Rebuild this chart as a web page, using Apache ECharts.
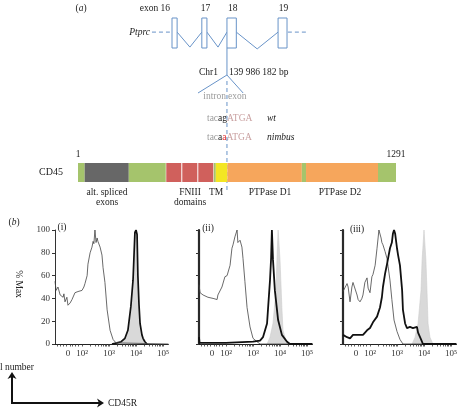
<!DOCTYPE html>
<html>
<head>
<meta charset="utf-8">
<script src="https://cdn.jsdelivr.net/npm/echarts@6/dist/echarts.min.js"></script>
<style>
  html, body { margin: 0; padding: 0; background: #fff; }
  #chart { width: 461px; height: 412px; }
</style>
</head>
<body>
<div id="chart"></div>
<script>
// ---- (a) gene structure, schematic gene units ----
const exonNames = ['exon 16', '17', '18', '19']
const exonStart = [0, 7.0, 12.9, 24.9]
const exonEnd = [1.2, 8.2, 15.1, 27.0]
// connector paths: introns, flanks, splice-site zoom
const introns = [
    [[1.2, 0.47], [4.2, 0.97], [7.0, 0.47]],
    [[8.2, 0.47], [10.8, 0.97], [12.9, 0.47]],
    [[15.1, 0.47], [20.0, 1.03], [24.9, 0.47]],
    [[12.9, 1.0], [12.9, 1.9]],
    [[6.1, 2.5], [12.9, 1.9], [16.7, 2.5]]
]
const dashedPaths = [
    [[-4.7, 0.47], [-0.5, 0.47]],
    [[27.2, 0.47], [31.7, 0.47]],
    [[12.9, 2.1], [12.9, 5.8]]
]

// ---- CD45 protein domains (residues 1..1291) ----
const domainFrom = [1, 28, 207, 357, 422, 487, 552, 560, 607, 909, 926, 1218]
const domainTo = [28, 207, 357, 422, 487, 552, 560, 607, 909, 926, 1218, 1291]
const domainKind = ['link', 'alt', 'link', 'fn3', 'fn3', 'fn3', 'link', 'tm', 'ptp', 'link', 'ptp', 'link']
const residueLabels = [1, 1291]

// ---- (b) histograms, x = display decades (2 = 10^2 ...) ----
const xTickValues = [1.48, 2, 3, 4, 5]
const xTickLabels = ['0', '10²', '10³', '10⁴', '10⁵']
const yTickValues = [0, 20, 40, 60, 80, 100]

const iThinX = [1.00, 1.04, 1.11, 1.19, 1.30, 1.33, 1.37, 1.44, 1.48, 1.56, 1.63, 1.74, 1.85, 2.00, 2.07, 2.11, 2.19, 2.22, 2.30, 2.37, 2.41, 2.44, 2.48, 2.52, 2.56, 2.59, 2.67, 2.74, 2.78, 2.85, 2.93, 3.04, 3.15, 3.26, 3.33, 5.2]
const iThinY = [55, 47, 50, 43, 41, 44, 37, 41, 34, 36, 39, 45, 46, 47, 50, 53, 60, 70, 80, 85, 90, 88, 100, 89, 93, 90, 85, 78, 67, 54, 30, 12, 4, 1, 0, 0]
const iFillX = [3.11, 3.30, 3.45, 3.59, 3.70, 3.81, 3.89, 3.93, 3.96, 4.00, 4.04, 4.07, 4.11, 4.15, 4.22, 4.26, 4.33, 4.41]
const iFillY = [0, 1, 2, 5, 12, 33, 56, 80, 98, 100, 96, 60, 35, 18, 8, 5, 2, 0]

const iiThinX = [1.00, 1.04, 1.15, 1.33, 1.52, 1.67, 1.70, 1.85, 1.96, 2.04, 2.15, 2.22, 2.26, 2.33, 2.41, 2.44, 2.52, 2.59, 2.63, 2.70, 2.78, 2.89, 3.00, 3.15, 3.26, 5.2]
const iiThinY = [52, 45, 43, 41, 40, 39, 43, 50, 59, 60, 69, 84, 87, 94, 100, 89, 91, 85, 75, 55, 32, 15, 5, 2, 0, 0]
const iiThickX = [1.00, 1.02, 1.05, 2.00, 3.00, 3.26, 3.37, 3.52, 3.56, 3.63, 3.67, 3.70, 3.74, 3.81, 3.93, 4.07, 4.26, 4.37, 5.2]
const iiThickY = [6, 1, 0, 1, 2, 3, 6, 18, 32, 56, 75, 100, 74, 47, 21, 8, 2, 0, 0]
const iiFillX = [3.52, 3.63, 3.74, 3.85, 3.89, 3.93, 4.00, 4.07, 4.11, 4.22, 4.33]
const iiFillY = [0, 6, 18, 47, 76, 100, 74, 32, 12, 3, 0]

const iiiThinX = [1.00, 1.15, 1.19, 1.26, 1.33, 1.37, 1.44, 1.52, 1.56, 1.63, 1.70, 1.74, 1.81, 1.89, 1.93, 2.00, 2.07, 2.11, 2.19, 2.26, 2.30, 2.33, 2.41, 2.44, 2.48, 2.56, 2.63, 2.67, 2.74, 2.81, 2.89, 3.00, 3.11, 3.22, 5.2]
const iiiThinY = [46, 53, 50, 37, 50, 54, 53, 43, 39, 37, 40, 43, 54, 58, 49, 45, 59, 61, 69, 84, 93, 100, 93, 89, 87, 81, 75, 68, 56, 39, 21, 11, 4, 0, 0]
const iiiThickX = [1.00, 1.15, 1.26, 1.37, 1.56, 1.74, 1.89, 2.00, 2.11, 2.26, 2.37, 2.44, 2.48, 2.56, 2.63, 2.74, 2.81, 2.85, 2.89, 2.93, 3.00, 3.04, 3.11, 3.19, 3.22, 3.30, 3.37, 3.48, 3.59, 3.74, 3.78, 3.89, 3.96, 5.2]
const iiiThickY = [8, 6, 5, 8, 8, 8, 12, 14, 19, 24, 32, 41, 50, 62, 70, 84, 89, 97, 100, 97, 84, 78, 69, 47, 30, 18, 14, 15, 14, 15, 10, 4, 0, 0]
const iiiFillX = [3.56, 3.67, 3.78, 3.89, 3.93, 4.00, 4.07, 4.11, 4.15, 4.22, 4.33]
const iiiFillY = [0, 6, 18, 47, 74, 100, 74, 47, 18, 6, 0]

const SERIF = '"Liberation Serif", "DejaVu Serif", serif'
const BLUE = '#6893c8'
const domainColor = { link: '#a5c46c', alt: '#676767', fn3: '#d0605c', tm: '#f3e624', ptp: '#f6a65c' }

const zip = (xs, ys) => xs.map((x, i) => [x, ys[i]])

// biexponential-looking minor ticks
const minorTicks = [1.1, 1.2, 1.3, 1.4, 1.56, 1.65, 1.75, 1.85]
for (let d = 2; d < 5; d++) {
    for (let k = 1; k <= 9; k++) minorTicks.push(d + Math.log10(k))
}
minorTicks.push(5)

const txt = (x, y, text, extra = {}, rotation = 0) => ({
    type: 'text', x, y, rotation, silent: true,
    style: Object.assign({
        text, fontFamily: SERIF, fontSize: 9.5, fill: '#222',
        align: 'center', verticalAlign: 'middle'
    }, extra)
})

const chart = echarts.init(document.getElementById('chart'), null, { renderer: 'canvas' })

const histLefts = [55, 199, 343]
const histGrids = histLefts.map(l => ({ left: l, top: 230, width: 113.4, height: 114 }))

const histX = histLefts.map((l, i) => ({
    type: 'value', gridIndex: 2 + i, min: 1, max: 5.2,
    axisLine: { lineStyle: { color: '#222', width: 1 } },
    axisTick: { customValues: minorTicks, length: 2.5, lineStyle: { color: '#333', width: 0.8 } },
    axisLabel: {
        customValues: xTickValues, margin: 5,
        formatter: v => xTickLabels[xTickValues.indexOf(v)],
        fontFamily: SERIF, fontSize: 9, color: '#333'
    },
    splitLine: { show: false }
}))

const histY = histLefts.map((l, i) => ({
    type: 'value', gridIndex: 2 + i, min: 0, max: 100, interval: 20,
    axisLine: { show: true, lineStyle: { color: i === 0 ? '#333' : '#2a2a2a', width: i === 0 ? 1 : 2.2 } },
    axisTick: { show: true, length: 3, lineStyle: { color: '#333' } },
    axisLabel: { show: i === 0, margin: 5, fontFamily: SERIF, fontSize: 9, color: '#333' },
    splitLine: { show: false }
}))

const fillSeries = (idx, xs, ys, outline) => ({
    type: 'line', xAxisIndex: idx, yAxisIndex: idx, data: zip(xs, ys),
    symbol: 'none', z: 2,
    lineStyle: outline ? { color: '#111', width: 1.7 } : { color: '#cdcdcd', width: 0.6 },
    areaStyle: { color: '#d9d9d9', opacity: 1 }
})
const lineSeries = (idx, xs, ys, thick) => ({
    type: 'line', xAxisIndex: idx, yAxisIndex: idx, data: zip(xs, ys),
    symbol: 'none', z: thick ? 4 : 3,
    lineStyle: thick ? { color: '#111', width: 1.8 } : { color: '#444', width: 0.8 }
})

const pathSeries = (paths, dashed) => ({
    type: 'custom', xAxisIndex: 0, yAxisIndex: 0, clip: false,
    data: paths.map((p, i) => [p[0][0], p[0][1], i]),
    renderItem: (params, api) => ({
        type: 'polyline',
        shape: { points: paths[api.value(2)].map(pt => api.coord(pt)) },
        style: { stroke: BLUE, lineWidth: 1, fill: null, lineDash: dashed ? [4, 3] : null }
    })
})

chart.setOption({
    animation: false,
    grid: [
        { left: 129.4, top: 18, width: 191.7, height: 177 },
        { left: 78, top: 163, width: 318, height: 19 },
        ...histGrids
    ],
    xAxis: [
        { type: 'value', gridIndex: 0, min: -10, max: 35, show: false },
        {
            type: 'value', gridIndex: 1, min: 1, max: 1291, position: 'top',
            axisLine: { show: false }, axisTick: { show: false }, splitLine: { show: false },
            axisLabel: {
                customValues: residueLabels, margin: 4, formatter: v => String(v),
                fontFamily: SERIF, fontSize: 9.5, color: '#222'
            }
        },
        ...histX
    ],
    yAxis: [
        { type: 'value', gridIndex: 0, min: 0, max: 5.9, inverse: true, show: false },
        {
            type: 'category', gridIndex: 1, data: ['CD45'],
            axisLine: { show: false }, axisTick: { show: false },
            axisLabel: { margin: 15, fontFamily: SERIF, fontSize: 10, color: '#222' }
        },
        ...histY
    ],
    series: [
        pathSeries(introns, false),
        pathSeries(dashedPaths, true),
        {
            // exon boxes with their labels
            type: 'custom', xAxisIndex: 0, yAxisIndex: 0, clip: false,
            data: exonStart.map((s, i) => [s, exonEnd[i], i]),
            renderItem: (params, api) => {
                const i = api.value(2)
                const p0 = api.coord([api.value(0), 0])
                const p1 = api.coord([api.value(1), 1])
                return {
                    type: 'group',
                    children: [
                        {
                            type: 'rect',
                            shape: { x: p0[0], y: p0[1], width: p1[0] - p0[0], height: p1[1] - p0[1] },
                            style: { fill: '#fff', stroke: BLUE, lineWidth: 1 }
                        },
                        {
                            type: 'text',
                            x: i === 0 ? p0[0] - 2 : (p0[0] + p1[0]) / 2 + 1,
                            y: p0[1] - 10,
                            style: {
                                text: exonNames[i], fontFamily: SERIF, fontSize: 9.5, fill: '#222',
                                align: i === 0 ? 'right' : 'center', verticalAlign: 'middle'
                            }
                        }
                    ]
                }
            }
        },
        {
            // CD45 domain bar
            type: 'custom', xAxisIndex: 1, yAxisIndex: 1,
            data: domainFrom.map((f, i) => [f, domainTo[i], i]),
            renderItem: (params, api) => {
                const kind = domainKind[api.value(2)]
                const p0 = api.coord([api.value(0), 0])
                const p1 = api.coord([api.value(1), 0])
                const h = api.size([0, 1])[1]
                const inset = kind === 'fn3' ? 0.5 : 0
                return {
                    type: 'rect',
                    shape: { x: p0[0] + inset, y: p0[1] - h / 2, width: p1[0] - p0[0] - 2 * inset, height: h },
                    style: { fill: domainColor[kind] }
                }
            }
        },
        fillSeries(2, iFillX, iFillY, true),
        lineSeries(2, iThinX, iThinY, false),
        fillSeries(3, iiFillX, iiFillY, false),
        lineSeries(3, iiThinX, iiThinY, false),
        lineSeries(3, iiThickX, iiThickY, true),
        fillSeries(4, iiiFillX, iiiFillY, false),
        lineSeries(4, iiiThinX, iiiThinY, false),
        lineSeries(4, iiiThickX, iiiThickY, true)
    ],
    graphic: [
        txt(81, 8, '({i|a})', { rich: { i: { fontStyle: 'italic', fontFamily: SERIF, fontSize: 9.5 } } }),
        txt(150, 32, 'Ptprc', { align: 'right', fontStyle: 'italic' }),
        txt(218, 72, 'Chr1', { align: 'right' }),
        txt(229, 72, '139 986 182 bp', { align: 'left' }),
        txt(226, 96, 'intron', { align: 'right', fill: '#9b9b9b' }),
        txt(228, 96, 'exon', { align: 'left', fill: '#9b9b9b' }),
        txt(207, 118, '{g|tac}{k|ag}{r|ATGA}', {
            align: 'left',
            rich: {
                g: { fill: '#9b9b9b', fontFamily: SERIF, fontSize: 9.5 },
                k: { fill: '#222', fontFamily: SERIF, fontSize: 9.5 },
                r: { fill: '#c9a0a0', fontFamily: SERIF, fontSize: 9.5 }
            }
        }),
        txt(267, 118, 'wt', { align: 'left', fontStyle: 'italic' }),
        txt(207, 137, '{g|tac}{k|a}{x|a}{r|ATGA}', {
            align: 'left',
            rich: {
                g: { fill: '#9b9b9b', fontFamily: SERIF, fontSize: 9.5 },
                k: { fill: '#222', fontFamily: SERIF, fontSize: 9.5 },
                x: { fill: '#e02a2a', fontFamily: SERIF, fontSize: 9.5 },
                r: { fill: '#c9a0a0', fontFamily: SERIF, fontSize: 9.5 }
            }
        }),
        txt(267, 137, 'nimbus', { align: 'left', fontStyle: 'italic' }),
        txt(107, 192, 'alt. spliced'),
        txt(107, 202, 'exons'),
        txt(190, 192, 'FNIII'),
        txt(190, 202, 'domains'),
        txt(216, 192, 'TM'),
        txt(270, 192, 'PTPase D1'),
        txt(340, 192, 'PTPase D2'),
        txt(14, 222, '({i|b})', { rich: { i: { fontStyle: 'italic', fontFamily: SERIF, fontSize: 9.5 } } }),
        txt(62, 227, '(i)'),
        txt(208, 228, '(ii)'),
        txt(357, 229, '(iii)'),
        txt(18, 284, '% Max', {}, -Math.PI / 2),
        txt(34, 367, 'Cell number', { align: 'right' }),
        txt(108, 403, 'CD45R', { align: 'left' }),
        {
            type: 'polyline', silent: true,
            shape: { points: [[12, 377], [12, 403], [99, 403]] },
            style: { stroke: '#111', lineWidth: 2, fill: null }
        },
        {
            type: 'polygon', silent: true,
            shape: { points: [[12, 372], [16.5, 379], [12, 377], [7.5, 379]] },
            style: { fill: '#111' }
        },
        {
            type: 'polygon', silent: true,
            shape: { points: [[104, 403], [97, 398.5], [99, 403], [97, 407.5]] },
            style: { fill: '#111' }
        }
    ]
})
</script>
</body>
</html>
